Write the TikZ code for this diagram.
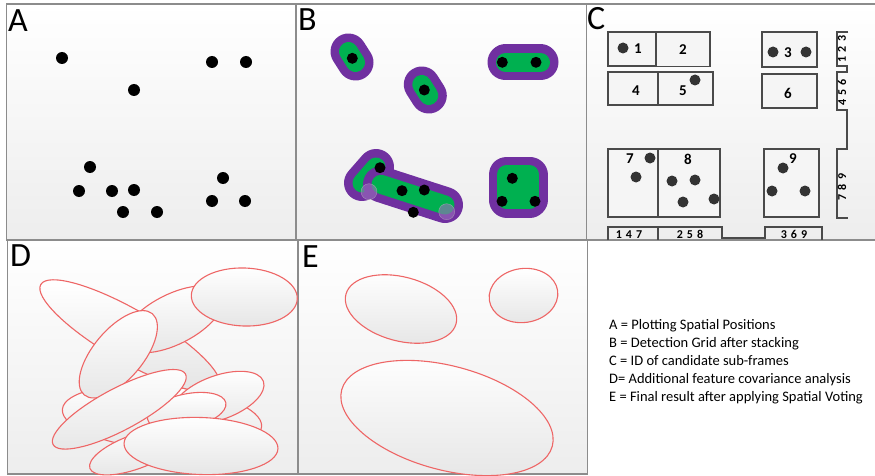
\documentclass[tikz,border=0pt]{standalone}
\usepackage{fontspec}
\setmainfont{Carlito}
\usetikzlibrary{positioning}
\definecolor{panelline}{HTML}{8C8C8C}
\definecolor{gridline}{HTML}{4A4A4A}
\definecolor{blobpurple}{HTML}{7030A0}
\definecolor{blobgreen}{HTML}{00B050}
\definecolor{covred}{HTML}{EE6666}

\begin{document}
\begin{tikzpicture}[
  x=1pt,
  y=-1pt,
  panel/.style={draw=panelline,line width=1.3pt,top color=white,bottom color=black!7},
  tag/.style={anchor=base west,inner sep=0pt,font=\fontsize{34}{34}\selectfont},
  spot/.style={fill=black},
  cspot/.style={fill=black!80},
  outerblob/.style={draw=blobpurple,line width=36pt,line cap=round,line join=round},
  innerblob/.style={draw=blobgreen,line width=19pt,line cap=round,line join=round},
  endcap/.style={draw=black!25,fill=blobpurple!70!white,opacity=.6},
  frame/.style={draw=gridline,line width=1.2pt,fill=black!4},
  framenum/.style={inner sep=0pt,font=\fontsize{15}{15}\selectfont\bfseries},
  bracket/.style={draw=gridline,line width=1.8pt},
  bracketnum/.style={inner sep=0pt,font=\fontsize{12}{12}\selectfont\bfseries},
  cov/.style={draw=covred,line width=1.1pt,top color=white,bottom color=black!10},
  legend/.style={anchor=base west,inner sep=0pt,font=\fontsize{14.5}{14.5}\selectfont}
]
  \useasboundingbox (0,0) rectangle (875,476);

  % panels
  \draw[panel] (6.5,4) rectangle (296,240);
  \draw[panel] (296,4) rectangle (586.5,240);
  \draw[panel] (586.5,4) rectangle (878,240);
  \draw[panel] (7.5,240) rectangle (298,474);
  \draw[panel] (298,240) rectangle (587.5,474);

  \node[tag] (tagA) at (8,32) {A};
  \node[tag] (tagB) at (298,31) {B};
  \node[tag] (tagC) at (587,30) {C};
  \node[tag] (tagD) at (10,266) {D};
  \node[tag] (tagE) at (302,267) {E};

  % A: spatial positions
  \fill[spot] (62,58) circle[radius=6];
  \fill[spot] (212,62) circle[radius=6];
  \fill[spot] (246,62) circle[radius=6];
  \fill[spot] (134,90) circle[radius=6];
  \fill[spot] (90,167) circle[radius=6];
  \fill[spot] (79,191) circle[radius=6];
  \fill[spot] (112,191) circle[radius=6];
  \fill[spot] (134,190) circle[radius=6];
  \fill[spot] (123,212) circle[radius=6];
  \fill[spot] (157,212) circle[radius=6];
  \fill[spot] (223,178) circle[radius=6];
  \fill[spot] (212,201) circle[radius=6];
  \fill[spot] (245,201) circle[radius=6];

  % B: detection grid
  \draw[outerblob] (348.5,51.5) -- (355.5,62.5);
  \draw[innerblob] (348.5,51.5) -- (355.5,62.5);
  \draw[outerblob] (421.8,84.5) -- (428.8,95.5);
  \draw[innerblob] (421.8,84.5) -- (428.8,95.5);
  \draw[outerblob] (505.5,62.5) -- (540.5,62.5);
  \draw[innerblob] (505.5,62.5) -- (540.5,62.5);
  \draw[outerblob,fill=blobpurple] (506.5,174.5) rectangle (529.5,199.5);
  \draw[innerblob,fill=blobgreen] (506.5,174.5) rectangle (529.5,199.5);
  \draw[outerblob] (362,183) -- (376,167);
  \draw[innerblob] (362,183) -- (376,167);
  \draw[outerblob] (381,184.3) -- (445,205);
  \draw[innerblob] (381,184.3) -- (445,205);
  \draw[endcap] (369,191.7) circle[radius=8];
  \draw[endcap] (446.7,211.7) circle[radius=8];

  \fill[spot] (352.3,58.3) circle[radius=5.5];
  \fill[spot] (424.3,90) circle[radius=5.5];
  \fill[spot] (502.3,62.3) circle[radius=5.5];
  \fill[spot] (536,62.3) circle[radius=5.5];
  \fill[spot] (380,167.7) circle[radius=5.5];
  \fill[spot] (402,190.7) circle[radius=5.5];
  \fill[spot] (424.3,190) circle[radius=5.5];
  \fill[spot] (413.3,212.3) circle[radius=5.5];
  \fill[spot] (512.3,178.3) circle[radius=5.5];
  \fill[spot] (502,201.3) circle[radius=5.5];
  \fill[spot] (535,201.3) circle[radius=5.5];

  % C: candidate sub-frames
  \draw[frame] (608,32) rectangle (656,66);
  \draw[frame] (656,32) rectangle (710,66.5);
  \draw[frame] (608,72) rectangle (658,105);
  \draw[frame] (658,72) rectangle (713,105);
  \draw[frame] (762,32) rectangle (817,67);
  \draw[frame] (762,74) rectangle (817,108);
  \draw[frame] (608,149) rectangle (658,217);
  \draw[frame] (658,149) rectangle (720,217);
  \draw[frame] (764,149) rectangle (819,217);

  \node[framenum] (f1) at (638,49) {1};
  \node[framenum] (f2) at (683,50) {2};
  \node[framenum] (f3) at (788,53) {3};
  \node[framenum] (f4) at (636,91) {4};
  \node[framenum] (f5) at (683,91) {5};
  \node[framenum] (f6) at (788,93) {6};
  \node[framenum] (f7) at (630,159) {7};
  \node[framenum] (f8) at (688,159) {8};
  \node[framenum] (f9) at (793,159) {9};

  \fill[cspot] (623,48) circle[radius=5.5];
  \fill[cspot] (695,80) circle[radius=5.5];
  \fill[cspot] (773,52) circle[radius=5.5];
  \fill[cspot] (806,52) circle[radius=5.5];
  \fill[cspot] (650,158) circle[radius=5.5];
  \fill[cspot] (636,177) circle[radius=5.5];
  \fill[cspot] (672,181) circle[radius=5.5];
  \fill[cspot] (695,180) circle[radius=5.5];
  \fill[cspot] (683,202) circle[radius=5.5];
  \fill[cspot] (714,199) circle[radius=5.5];
  \fill[cspot] (783,168) circle[radius=5.5];
  \fill[cspot] (772,191) circle[radius=5.5];
  \fill[cspot] (805,191) circle[radius=5.5];

  \draw[bracket] (848.3,31.7) -- (837.3,31.7) -- (837.3,66) -- (846.7,66)
    -- (846.7,71.7) -- (837.3,71.7) -- (837.3,110) -- (846.7,110)
    -- (846.7,149.3) -- (836.7,149.3) -- (836.7,218.3) -- (848.3,218.3);
  \draw[bracket] (608.3,240) -- (608.3,226.7) -- (721.7,226.7) -- (721.7,238.3)
    -- (765,238.3) -- (765,226.7) -- (821.7,226.7) -- (821.7,240);
  \draw[bracket] (658.3,226.7) -- (658.3,240);

  \node[bracketnum,rotate=90] (r123) at (842,49) {1\kern4pt2\kern4pt3};
  \node[bracketnum,rotate=90] (r456) at (842,92.5) {4\kern4pt5\kern4pt6};
  \node[bracketnum,rotate=90] (r789) at (842,187) {7\kern4pt8\kern4pt9};
  \node[bracketnum,anchor=base] (c147) at (629,238.5) {1\kern4pt4\kern4pt7};
  \node[bracketnum,anchor=base] (c258) at (690,238.5) {2\kern4pt5\kern4pt8};
  \node[bracketnum,anchor=base] (c369) at (794,238) {3\kern4pt6\kern4pt9};

  % D: covariance ellipses
  \draw[cov,rotate around={-5:(162,418)}] (162,418) ellipse [x radius=100,y radius=32];
  \draw[cov,rotate around={20:(135,452)}] (135,452) ellipse [x radius=48,y radius=17];
  \draw[cov,rotate around={-30:(130,336)}] (130,336) ellipse [x radius=103,y radius=26];
  \draw[cov,rotate around={27:(173.3,319.3)}] (173.3,319.3) ellipse [x radius=55,y radius=25];
  \draw[cov,rotate around={-2:(244.3,297)}] (244.3,297) ellipse [x radius=53,y radius=29];
  \draw[cov,rotate around={50:(118.3,354.3)}] (118.3,354.3) ellipse [x radius=53,y radius=25];
  \draw[cov,rotate around={20:(218.3,397.7)}] (218.3,397.7) ellipse [x radius=48,y radius=22];
  \draw[cov,rotate around={12:(186.7,411)}] (186.7,411) ellipse [x radius=40,y radius=17];
  \draw[cov,rotate around={28:(119.3,409.3)}] (119.3,409.3) ellipse [x radius=75,y radius=21];
  \draw[cov,rotate around={-2:(201,446)}] (201,446) ellipse [x radius=77,y radius=28.5];

  % E: spatial voting result
  \draw[cov,rotate around={-15:(401,309)}] (401,309) ellipse [x radius=57,y radius=32];
  \draw[cov,rotate around={8:(523.5,295.5)}] (523.5,295.5) ellipse [x radius=34.5,y radius=27];
  \draw[cov,rotate around={-15:(447,418)}] (447,418) ellipse [x radius=109,y radius=52];

  % legend
  \node[legend] (legA) at (609,329.3) {A = Plotting Spatial Positions};
  \node[legend] (legB) at (609,347.4) {B = Detection Grid after stacking};
  \node[legend] (legC) at (609,365.5) {C = ID of candidate sub-frames};
  \node[legend] (legD) at (609,383.6) {D= Additional feature covariance analysis};
  \node[legend] (legE) at (609,401.7) {E = Final result after applying Spatial Voting};
\end{tikzpicture}
\end{document}
